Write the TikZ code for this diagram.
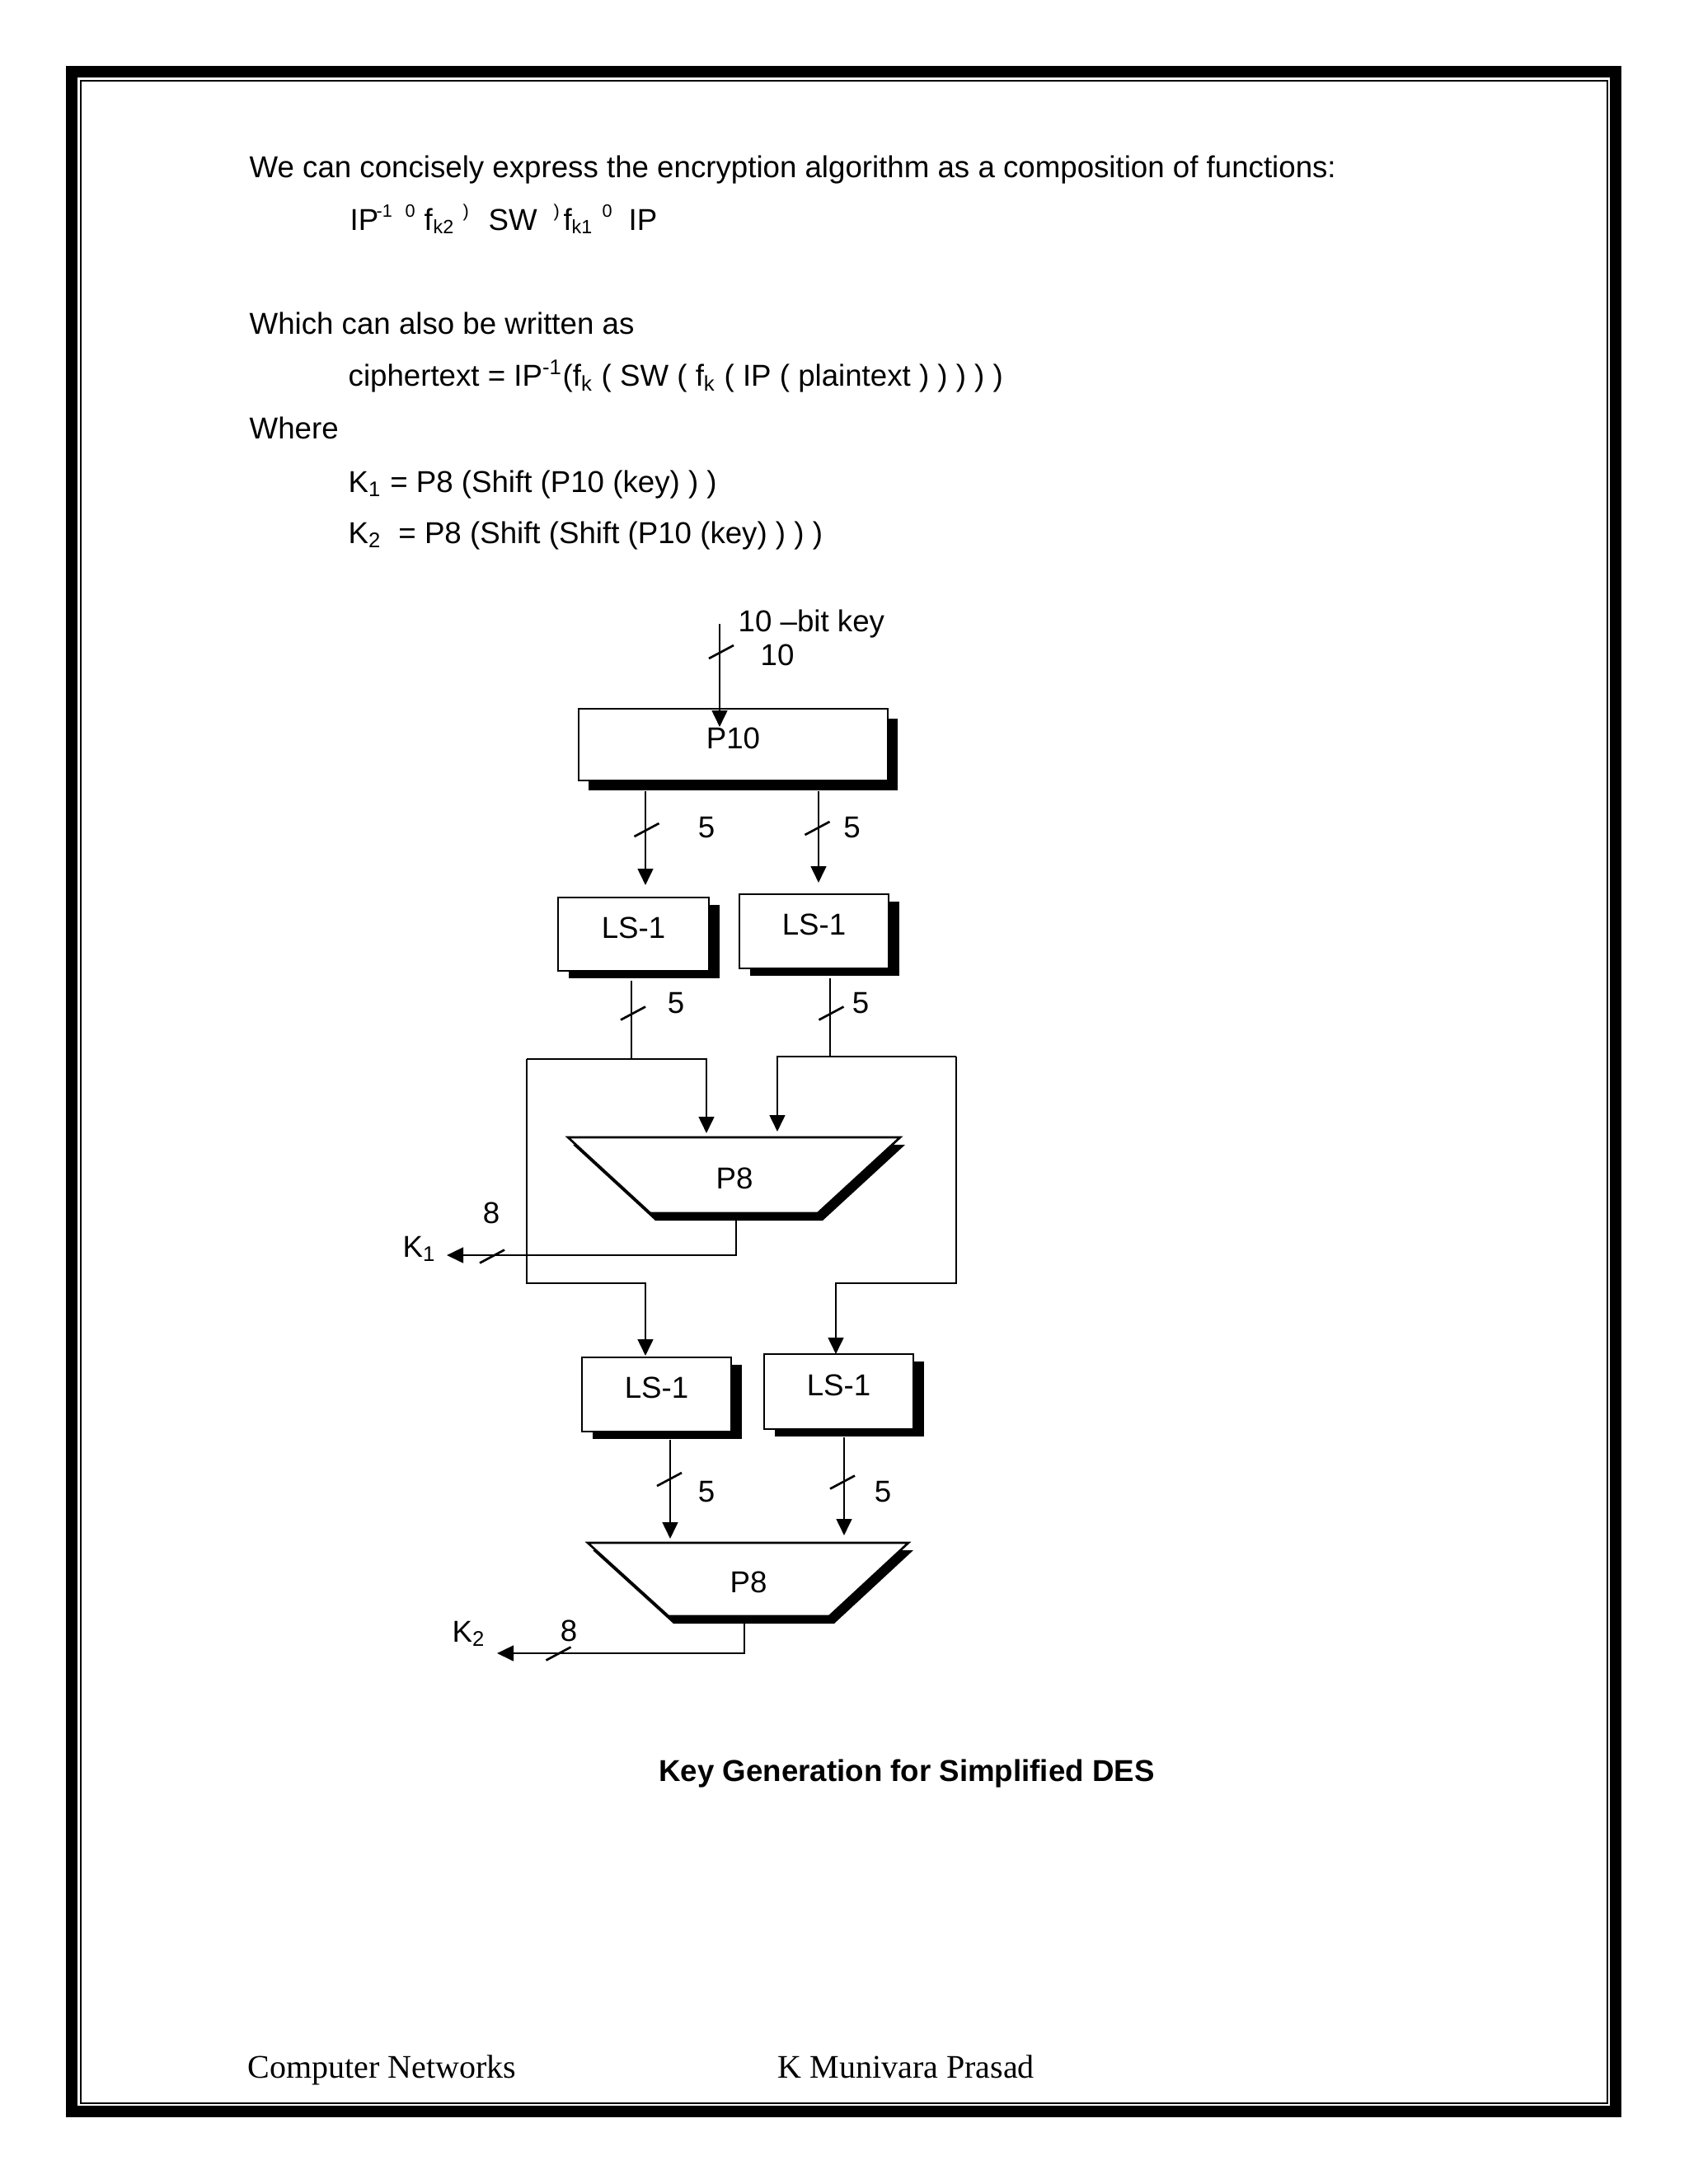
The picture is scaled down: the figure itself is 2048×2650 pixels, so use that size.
\documentclass[tikz,border=0pt]{standalone}
\usepackage{fontspec}
\setmainfont{Liberation Sans}
\newfontfamily\timesf{Liberation Serif}
\usetikzlibrary{arrows.meta,shadows,calc}
\newdimen\px \px=0.29995pt
\newcommand\bsz{\fontsize{11}{13}\selectfont}
\newcommand\dsz{\fontsize{11}{13}\selectfont}
\begin{document}
\begin{tikzpicture}[x=0.00415039in, y=-0.00415039in,
  wire/.style={line width=0.8pt},
  arr/.style={-{Triangle[length=6pt,width=5.6pt]}},
  blk/.style={draw, line width=0.8pt, fill=white, inner sep=0pt, outer sep=0pt,
    font=\dsz, text height=7.9pt, text depth=5pt},
  shp/.style={general shadow={fill=black, shadow xshift=3.6pt, shadow yshift=-3.6pt}},
  shl/.style={general shadow={fill=black, shadow xshift=3.9pt, shadow yshift=-2.8pt}},
  lbl/.style={font=\dsz, inner sep=0pt},
  body/.style={font=\bsz, inner sep=0pt, anchor=base west},
  sups/.style={font=\fontsize{6.5}{8}\selectfont, inner sep=0pt, anchor=base west},
  subs/.style={font=\fontsize{7}{8}\selectfont, inner sep=0pt, anchor=base west},
  foot/.style={font=\timesf\fontsize{12}{14}\selectfont, inner sep=0pt, anchor=base west}]
\useasboundingbox (0,0) rectangle (2048,2650);
% page frame
\draw[line width=14*\px] (87,87) rectangle (1960,2562);
\draw[line width=2*\px] (98,98) rectangle (1950,2552);

% body text
\node[body] (t1) at (302,215) {We can concisely express the encryption algorithm as a composition of functions:};
\node[body] (f1) at (424,279) {IP};
\node[sups] (f2) at (456,263) {-1};
\node[sups] (f3) at (491,263) {0};
\node[body] (f4) at (514,279) {f};
\node[subs] (f5) at (525,283) {k2};
\node[sups] (f6) at (561,263) {)};
\node[body] (f7) at (592,279) {SW};
\node[sups] (f8) at (671,263) {)};
\node[body] (f9) at (683,279) {f};
\node[subs] (f10) at (693,283) {k1};
\node[sups] (f11) at (730,263) {0};
\node[body] (f12) at (762,279) {IP};
\node[body] (t3) at (302,405) {Which can also be written as};
\node[body] (t4) at (422,468) {ciphertext = IP\textsuperscript{-1}(f\textsubscript{k} ( SW ( f\textsubscript{k} ( IP ( plaintext ) ) ) ) )};
\node[body] (t5) at (302,532) {Where};
\node[body] (t6) at (422,597) {K\textsubscript{1} = P8 (Shift (P10 (key) ) )};
\node[body] (t7) at (422,659) {K\textsubscript{2}\ \ = P8 (Shift (Shift (P10 (key) ) ) )};

% diagram blocks
\node[blk, shp, minimum width=375*\px, minimum height=87*\px] (p10) at (889.5,903.5) {P10};
\node[blk, shl, minimum width=183*\px, minimum height=89*\px] (lsa) at (768.5,1133.5) {LS-1};
\node[blk, shl, minimum width=181*\px, minimum height=90*\px] (lsb) at (987.5,1130) {LS-1};
\node[blk, shl, minimum width=181*\px, minimum height=90*\px] (lsc) at (796.5,1692) {LS-1};
\node[blk, shl, minimum width=181*\px, minimum height=91*\px] (lsd) at (1017.5,1688.5) {LS-1};

% P8 trapezoids
\fill[shift={(6,9)}] (689,1380) -- (1092,1380) -- (992,1472) -- (789,1472) -- cycle;
\draw[wire, fill=white] (689,1380) -- (1092,1380) -- (992,1472) -- (789,1472) -- cycle;
\node[lbl] (p8a) at (891,1430) {P8};
\fill[shift={(6,9)}] (713,1872) -- (1102,1872) -- (1006,1961) -- (811,1961) -- cycle;
\draw[wire, fill=white] (713,1872) -- (1102,1872) -- (1006,1961) -- (811,1961) -- cycle;
\node[lbl] (p8b) at (908,1920) {P8};

% labels
\node[lbl, anchor=base west] (keyl) at (895,766) {10 –bit key};
\node[lbl, anchor=base west] (n10) at (922,807) {10};
\node[lbl] (n5a) at (857,1004) {5};
\node[lbl] (n5b) at (1033.5,1004) {5};
\node[lbl] (n5c) at (820,1217) {5};
\node[lbl] (n5d) at (1044,1217) {5};
\node[lbl] (n5e) at (857,1810) {5};
\node[lbl] (n5f) at (1071,1810) {5};
\node[lbl] (n8a) at (596,1472) {8};
\node[lbl] (n8b) at (690,1979) {8};
\node[lbl, anchor=base west] (k1) at (488,1525) {K\textsubscript{1}};
\node[lbl, anchor=base west] (k2) at (548,1992) {K\textsubscript{2}};

% connectors
\coordinate (keytop) at (873,757);
\draw[wire, arr] (keytop) -- (873,882);
\draw[wire, arr] (783,960) -- (783,1074);
\draw[wire, arr] (993,960) -- (993,1071);
\draw[wire] (766,1190) -- (766,1285);
\draw[wire, arr] (639,1285) -- (857,1285) -- (857,1375);
\draw[wire, arr] (639,1285) -- (639,1557) -- (783,1557) -- (783,1645);
\draw[wire] (1007,1187) -- (1007,1282);
\draw[wire, arr] (1160,1282) -- (943,1282) -- (943,1373);
\draw[wire, arr] (1160,1282) -- (1160,1557) -- (1014,1557) -- (1014,1643);
\draw[wire, arr] (893,1481) -- (893,1523) -- (542,1523);
\draw[wire, arr] (813,1747) -- (813,1867);
\draw[wire, arr] (1024,1744) -- (1024,1863);
\draw[wire, arr] (903,1970) -- (903,2006) -- (603,2006);

% bus ticks
\foreach \cx/\cy in {875/791, 784.5/1007, 991.5/1005, 768/1229.5, 1008.5/1229.5,
                     597/1524.5, 812/1795, 1022/1798.5, 677.5/2006.5}
  \draw[wire] (\cx-15,\cy+8) -- (\cx+15,\cy-8);

% caption and footer
\node[font=\bfseries\bsz, inner sep=0pt, anchor=base] (cap) at (1100,2161) {Key Generation for Simplified DES};
\node[foot] (ft1) at (300,2521) {Computer Networks};
\node[foot] (ft2) at (943,2521) {K Munivara Prasad};
\end{tikzpicture}
\end{document}
